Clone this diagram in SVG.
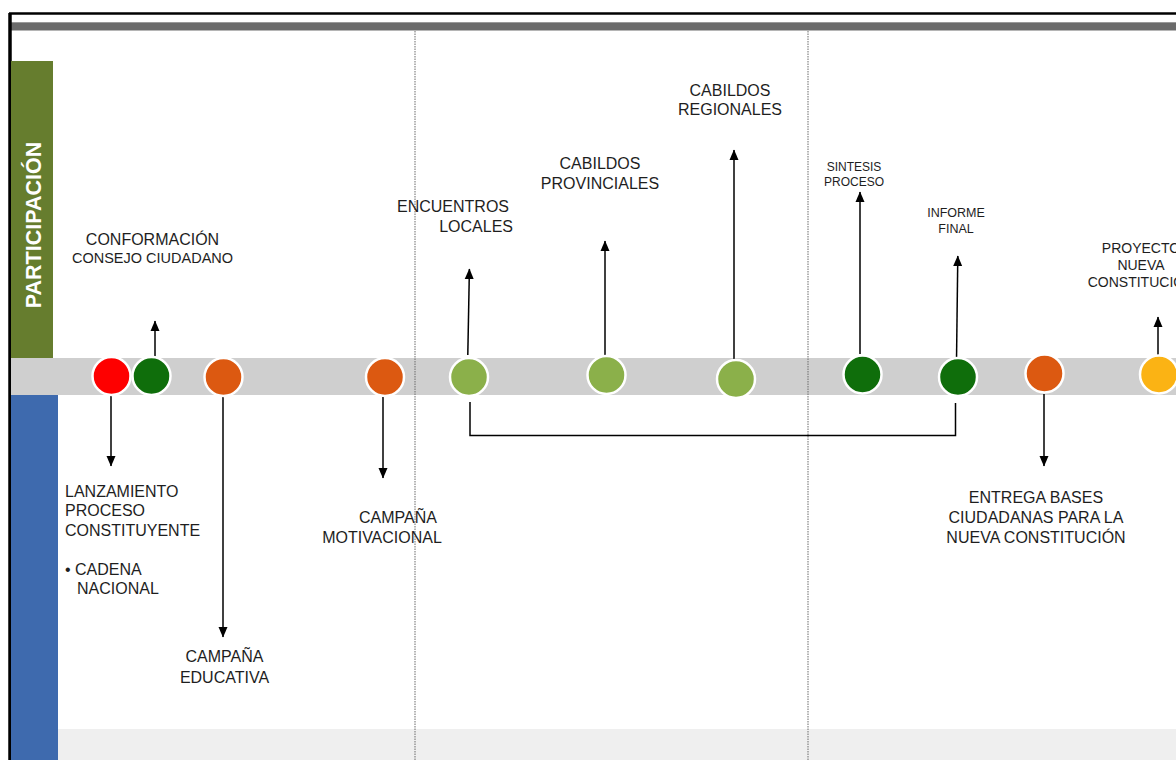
<svg xmlns="http://www.w3.org/2000/svg" width="1176" height="760" viewBox="0 0 1176 760">
<style>
.t{font-family:"Liberation Sans",Arial,sans-serif;fill:#1e1e1e;font-size:16px}
.m{text-anchor:middle}
.e{text-anchor:end}
.s{font-size:12px}
.c{stroke:#ffffff;stroke-width:2.5}
.ln{stroke:#000;stroke-width:1.5;fill:none}
.dot{stroke:#6a6a6a;stroke-width:1;stroke-dasharray:1.5 1}
</style>
<defs>
<marker id="ah" markerUnits="userSpaceOnUse" markerWidth="11" markerHeight="10" refX="10" refY="5" orient="auto" viewBox="0 0 11 10">
<path d="M0,0.5 L10.5,5 L0,9.5 Z" fill="#000"/>
</marker>
</defs>
<rect width="1176" height="760" fill="#ffffff"/>
<g id="frame">
<rect x="11" y="23" width="1165" height="7" fill="#6b6b6b"/>
<rect x="11" y="22" width="1165" height="1" fill="#9a9a9a"/>
<rect x="11" y="30" width="1165" height="1" fill="#b5b5b5"/>
<line x1="9" y1="13.5" x2="1176" y2="13.5" stroke="#000" stroke-width="2.5"/>
<line x1="10" y1="13" x2="10" y2="760" stroke="#000" stroke-width="3.5"/>
<rect x="58" y="729" width="1118" height="31" fill="#efefef"/>
<rect x="11" y="358" width="1165" height="37" fill="#cfcfcf"/>
<rect x="11" y="61" width="42" height="297" fill="#667d2e"/>
<rect x="11" y="395" width="47" height="365" fill="#3e6aae"/>
<text class="t m" transform="translate(41,225) rotate(-90)" style="fill:#ffffff;font-weight:bold;font-size:21.5px">PARTICIPACIÓN</text>
<line class="dot" x1="415" y1="31" x2="415" y2="760"/>
<line class="dot" x1="808" y1="31" x2="808" y2="760"/>
</g>
<g id="connectors">
<line class="ln" x1="155" y1="357" x2="155" y2="321" marker-end="url(#ah)"/>
<line class="ln" x1="111" y1="395" x2="111" y2="466" marker-end="url(#ah)"/>
<line class="ln" x1="223" y1="395" x2="223" y2="637" marker-end="url(#ah)"/>
<line class="ln" x1="383" y1="397" x2="383" y2="478" marker-end="url(#ah)"/>
<line class="ln" x1="467.8" y1="355" x2="469.4" y2="269" marker-end="url(#ah)"/>
<line class="ln" x1="605" y1="355" x2="605" y2="241" marker-end="url(#ah)"/>
<line class="ln" x1="734" y1="359" x2="734" y2="150" marker-end="url(#ah)"/>
<line class="ln" x1="860" y1="354" x2="860" y2="192" marker-end="url(#ah)"/>
<line class="ln" x1="956.5" y1="361" x2="957.8" y2="256" marker-end="url(#ah)"/>
<line class="ln" x1="1044" y1="394" x2="1044" y2="466" marker-end="url(#ah)"/>
<line class="ln" x1="1158" y1="355" x2="1158" y2="317" marker-end="url(#ah)"/>
<path class="ln" d="M470,402 L470,435.5 L955.5,435.5 L955.5,403"/>
</g>
<g id="n1"><circle class="c" cx="111.5" cy="376" r="19" fill="#fe0000"/>
<text class="t" x="65" y="497">LANZAMIENTO</text>
<text class="t" x="65" y="516">PROCESO</text>
<text class="t" x="65" y="536">CONSTITUYENTE</text>
<text class="t" x="65" y="575">• CADENA</text>
<text class="t" x="77" y="594">NACIONAL</text></g>
<g id="n2"><circle class="c" cx="151.5" cy="376" r="19" fill="#0f6e0b"/>
<text class="t m" x="152.5" y="245">CONFORMACIÓN</text>
<text class="t m" x="152.5" y="263" style="font-size:14.5px">CONSEJO CIUDADANO</text></g>
<g id="n3"><circle class="c" cx="223.5" cy="377" r="19" fill="#dc5911"/>
<text class="t m" x="224.5" y="662">CAMPAÑA</text>
<text class="t m" x="224.5" y="683">EDUCATIVA</text></g>
<g id="n4"><circle class="c" cx="385" cy="377" r="19" fill="#dc5911"/>
<text class="t m" x="398" y="523">CAMPAÑA</text>
<text class="t m" x="382" y="543">MOTIVACIONAL</text></g>
<g id="n5"><circle class="c" cx="469" cy="377" r="19" fill="#8bb04a"/>
<text class="t e" x="509" y="212">ENCUENTROS</text>
<text class="t e" x="513" y="232">LOCALES</text></g>
<g id="n6"><circle class="c" cx="606.5" cy="375" r="19" fill="#8bb04a"/>
<text class="t m" x="600" y="169">CABILDOS</text>
<text class="t m" x="600" y="189">PROVINCIALES</text></g>
<g id="n7"><circle class="c" cx="736" cy="379" r="19" fill="#8bb04a"/>
<text class="t m" x="730" y="96">CABILDOS</text>
<text class="t m" x="730" y="115">REGIONALES</text></g>
<g id="n8"><circle class="c" cx="862.5" cy="374.5" r="19" fill="#0f6e0b"/>
<text class="t m s" x="854" y="171">SINTESIS</text>
<text class="t m s" x="854" y="186">PROCESO</text></g>
<g id="n9"><circle class="c" cx="958" cy="377" r="19" fill="#0f6e0b"/>
<text class="t m s" x="956" y="217" style="font-size:12.5px">INFORME</text>
<text class="t m s" x="956" y="233" style="font-size:12.5px">FINAL</text></g>
<g id="n10"><circle class="c" cx="1044.5" cy="373.5" r="19" fill="#dc5911"/>
<text class="t m" x="1036" y="503">ENTREGA BASES</text>
<text class="t m" x="1036" y="523">CIUDADANAS PARA LA</text>
<text class="t m" x="1036" y="543">NUEVA CONSTITUCIÓN</text></g>
<g id="n11"><circle class="c" cx="1159" cy="374.5" r="19" fill="#fbb314"/>
<text class="t m" x="1141" y="253" style="font-size:14px">PROYECTO</text>
<text class="t m" x="1141" y="270" style="font-size:14px">NUEVA</text>
<text class="t m" x="1141" y="287" style="font-size:14px">CONSTITUCIÓN</text></g>
</svg>
